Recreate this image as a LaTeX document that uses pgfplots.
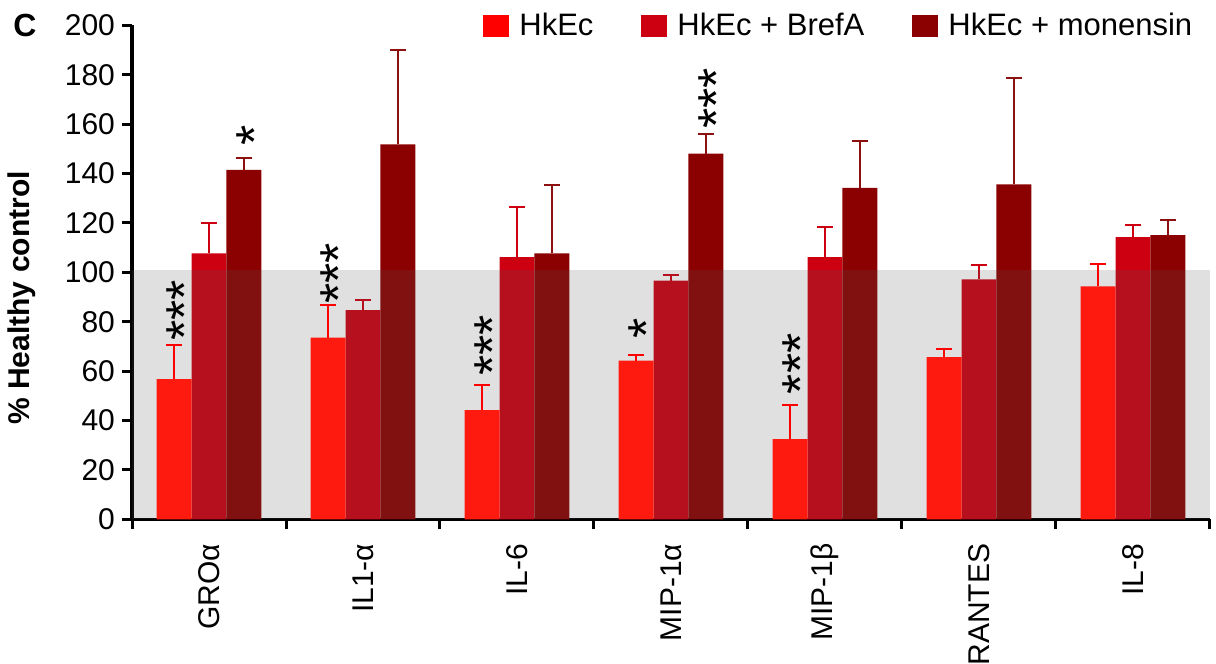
\documentclass[border=0pt]{standalone}
\usepackage{fontspec}
\setmainfont{Liberation Sans}
\usepackage{pgfplots}
\usepackage{pgfplotstable}
\pgfplotsset{compat=1.18}
\definecolor{cA}{RGB}{255,26,16}
\definecolor{cAleg}{RGB}{255,0,0}
\definecolor{cB}{RGB}{204,0,17}
\definecolor{cC}{RGB}{139,0,0}
\definecolor{cCerr}{RGB}{140,16,16}
\definecolor{bandc}{RGB}{90,90,90}

% x: 0 GROa, 1 IL1-a, 2 IL-6, 3 MIP-1a, 4 MIP-1b, 5 RANTES, 6 IL-8
\pgfplotstableread{
x y e
0 56.8 13.6
1 73.6 13.0
2 44.2 10.0
3 64.2 2.4
4 32.5 13.6
5 65.7 3.2
6 94.3 9.1
}\hkec
\pgfplotstableread{
x y e
0 107.7 12.2
1 84.7 4.2
2 106.1 20.4
3 96.6 2.5
4 106.1 12.2
5 97.1 5.7
6 114.2 4.9
}\brefa
\pgfplotstableread{
x y e
0 141.5 4.9
1 151.8 38.1
2 107.7 27.6
3 148.0 7.8
4 134.2 18.9
5 135.6 43.2
6 115.0 6.2
}\monensin

\begin{document}
\begin{tikzpicture}[x=1pt,y=1pt]
\useasboundingbox (0,0) rectangle (608,332);
\begin{axis}[
  at={(66pt,72.35pt)}, anchor=south west,
  scale only axis, width=539pt, height=247pt,
  xmin=-0.5, xmax=6.5, ymin=0, ymax=200,
  axis x line*=bottom, axis y line*=left,
  axis line style={line width=1.6pt, black},
  ytick={0,20,...,200},
  xtick={-0.5,0.5,...,6.5},
  xticklabels={{},{},{},{},{},{},{},{}},
  extra x ticks={0,1,2,3,4,5,6},
  extra x tick labels={GROα,IL1-α,IL-6,MIP-1α,MIP-1β,RANTES,IL-8},
  extra x tick style={major tick length=0pt},
  xticklabel style={rotate=90, anchor=east, inner sep=0pt},
  xticklabel shift=12pt,
  tick align=outside, major tick length=5pt,
  tick style={line width=1.5pt, black},
  ticklabel style={font=\fontsize{15}{18}\selectfont},
  /pgf/number format/assume math mode=true,
  ylabel={\bfseries \% Healthy control},
  ylabel style={font=\fontsize{15}{18}\selectfont, at={(axis description cs:-0.102,0.448)}, anchor=center},
  legend style={at={(axis description cs:0.3256,0.9986)}, anchor=west, draw=none, fill=none, inner sep=0pt,
    font=\fontsize{15.5}{18}\selectfont,
    nodes={inner xsep=5pt},
    /tikz/every even column/.append style={column sep=19pt}},
  legend columns=-1,
]
\addlegendimage{fill=cAleg, draw=none, legend image code/.code={\fill (0pt,-5.5pt) rectangle (13pt,5.5pt);}}
\addlegendentry{HkEc}
\addlegendimage{fill=cB, draw=none, legend image code/.code={\fill (0pt,-5.5pt) rectangle (13pt,5.5pt);}}
\addlegendentry{HkEc + BrefA}
\addlegendimage{fill=cC, draw=none, legend image code/.code={\fill (0pt,-5.5pt) rectangle (13pt,5.5pt);}}
\addlegendentry{HkEc + monensin}

\addplot[forget plot, ybar, bar width=0.2266, bar shift=0, fill=cB, draw=none,
  error bars/.cd, y dir=plus, y explicit,
  error bar style={line width=1pt, cB}, error mark options={rotate=90, mark size=4pt, line width=1pt, cB}]
  table[x=x, y=y, y error=e] {\brefa};
\addplot[forget plot, ybar, bar width=0.2266, bar shift=0, fill=cC, draw=none,
  error bars/.cd, y dir=plus, y explicit,
  error bar style={line width=1pt, cCerr}, error mark options={rotate=90, mark size=4pt, line width=1pt, cCerr}]
  table[x expr=\thisrow{x}+0.2266, y=y, y error=e] {\monensin};
\addplot[forget plot, draw=none, fill=bandc, fill opacity=0.19]
  coordinates {(-0.5,100.8) (6.5,100.8)} \closedcycle;
\addplot[forget plot, ybar, bar width=0.2266, bar shift=0, fill=cA, draw=none,
  error bars/.cd, y dir=plus, y explicit,
  error bar style={line width=1pt, cAleg}, error mark options={rotate=90, mark size=4pt, line width=1pt, cAleg}]
  table[x expr=\thisrow{x}-0.2266, y=y, y error=e] {\hkec};

\begin{scope}[every node/.style={rotate=90, anchor=base west, inner sep=0pt, font=\fontsize{26}{30}\selectfont}]
\node at (axis cs:-0.040,72.1) {***};
\node at (axis cs:0.414,151.1) {*};
\node at (axis cs:0.960,87.2) {***};
\node at (axis cs:1.960,57.9) {***};
\node at (axis cs:2.960,72.9) {*};
\node at (axis cs:3.414,158.0) {***};
\node at (axis cs:3.960,50.5) {***};
\end{scope}
\end{axis}
\node[font=\fontsize{16}{18}\selectfont\bfseries] at (12.5,319.5) {C};
\end{tikzpicture}
\end{document}
